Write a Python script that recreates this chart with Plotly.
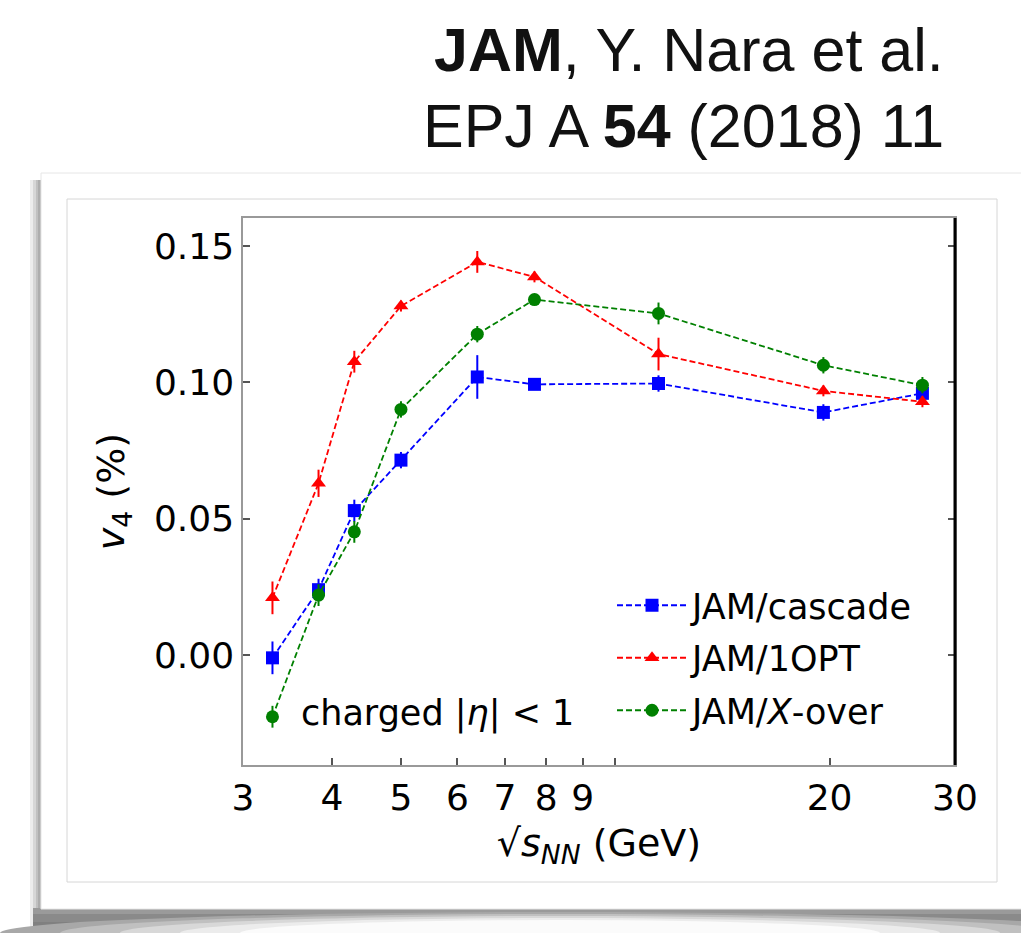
import math
import plotly.graph_objects as go

# ---- data ----
energies = [3.3, 3.83, 4.3, 5.0, 6.4, 7.7, 11.5, 19.6, 27.0]

cascade_v4 = [-0.001, 0.024, 0.053, 0.0715, 0.102, 0.0993, 0.0996, 0.089, 0.096]
cascade_err = [0.006, 0.004, 0.004, 0.003, 0.008, 0.002, 0.003, 0.003, 0.002]

opt_v4 = [0.021, 0.063, 0.1076, 0.128, 0.1442, 0.1387, 0.1104, 0.0969, 0.0929]
opt_err = [0.006, 0.005, 0.004, 0.002, 0.004, 0.002, 0.006, 0.002, 0.002]

xover_v4 = [-0.0226, 0.022, 0.0452, 0.0901, 0.1177, 0.1304, 0.1253, 0.1063, 0.099]
xover_err = [0.004, 0.004, 0.004, 0.003, 0.003, 0.002, 0.004, 0.003, 0.003]

series_names = ["JAM/cascade", "JAM/1OPT", "JAM/<i>X</i>-over"]

x_tickvals = [3, 4, 5, 6, 7, 8, 9, 10, 20, 30]
x_ticktext = ["3", "4", "5", "6", "7", "8", "9", "", "20", "30"]
y_tickvals = [0.0, 0.05, 0.10, 0.15]
y_ticktext = ["0.00", "0.05", "0.10", "0.15"]

# ---- layout geometry (pixels) ----
W, H = 1021, 933
L, R, T, B = 243, 955, 218, 765


def px(x):
    return (x - L) / (R - L)


def py(y):
    return (B - y) / (B - T)


FONT = "DejaVu Sans"

fig = go.Figure()

specs = [
    (cascade_v4, cascade_err, "blue", "square", series_names[0]),
    (opt_v4, opt_err, "red", "triangle-up", series_names[1]),
    (xover_v4, xover_err, "green", "circle", series_names[2]),
]
for i, (vals, errs, col, sym, name) in enumerate(specs):
    fig.add_trace(go.Scatter(
        x=energies, y=vals, name=name, mode="lines+markers",
        legendgroup="g%d" % i,
        line=dict(color=col, width=1.8, dash="6px,3px"),
        marker=dict(color=col, symbol=sym, size=13),
        error_y=dict(type="data", array=errs, visible=True, color=col,
                     thickness=2, width=0),
    ))

shapes = []
# left shadow of the card
for x0, x1, c in [(30, 33, "#ececec"), (33, 36, "#d6d6d6"), (36, 38, "#c0c0c0"), (38, 41, "#adadad")]:
    shapes.append(dict(type="rect", xref="paper", yref="paper", layer="below",
                       x0=px(x0), x1=px(x1), y0=py(933), y1=py(180),
                       fillcolor=c, line=dict(width=0)))
# bottom shadow band
for y0, y1, c in [(908, 914, "#9a9a9a"), (914, 922, "#8a8a8a"), (922, 933, "#808080")]:
    shapes.append(dict(type="rect", xref="paper", yref="paper", layer="below",
                       x0=px(33), x1=px(1021), y0=py(y1), y1=py(y0),
                       fillcolor=c, line=dict(width=0)))
# lighter, curved middle of the bottom shadow
for rx, top, c in [(560, 912, "#a8a8a8"), (500, 914, "#c0c0c0"), (440, 916, "#d8d8d8"),
                   (380, 918, "#ececec"), (320, 920, "#fbfbfb")]:
    shapes.append(dict(type="circle", xref="paper", yref="paper", layer="below",
                       x0=px(560 - rx), x1=px(560 + rx), y0=py(933 + (933 - top)), y1=py(top),
                       fillcolor=c, line=dict(width=0)))
# card
shapes.append(dict(type="rect", xref="paper", yref="paper", layer="below",
                   x0=px(41), x1=px(1030), y0=py(909), y1=py(173),
                   fillcolor="white", line=dict(color="#e6e6e6", width=1)))
# inner frame
shapes.append(dict(type="rect", xref="paper", yref="paper", layer="below",
                   x0=px(67), x1=px(997), y0=py(882), y1=py(199),
                   fillcolor="white", line=dict(color="#d6d6d6", width=1)))
# thick black right spine
shapes.append(dict(type="line", xref="paper", yref="paper", layer="above",
                   x0=1, x1=1, y0=0, y1=1, line=dict(color="black", width=3)))

annotations = [
    dict(text="<b>JAM</b>, Y. Nara et al.", xref="paper", yref="paper",
         x=px(946), y=py(50), xanchor="right", yanchor="middle", showarrow=False,
         font=dict(family="Liberation Sans", size=61, color="#111")),
    dict(text="EPJ A <b>54</b> (2018) 11", xref="paper", yref="paper",
         x=px(946), y=py(126), xanchor="right", yanchor="middle", showarrow=False,
         font=dict(family="Liberation Sans", size=61, color="#111")),
    dict(text="charged |<i>η</i>| < 1", xref="x", yref="y",
         x=math.log10(3.6), y=-0.0215, xanchor="left", yanchor="middle",
         showarrow=False, font=dict(family=FONT, size=35, color="black")),
]

fig.update_layout(
    width=W, height=H,
    margin=dict(l=L, r=W - R, t=T, b=H - B, pad=0),
    paper_bgcolor="white", plot_bgcolor="white",
    font=dict(family=FONT, size=36, color="black"),
    shapes=shapes, annotations=annotations,
    showlegend=True,
    legend=dict(x=px(612), y=py(576), xanchor="left", yanchor="top",
                bgcolor="rgba(255,255,255,0)", font=dict(family=FONT, size=35),
                itemwidth=70, tracegroupgap=4),
    xaxis=dict(type="log", range=[math.log10(3), math.log10(30)],
               tickvals=x_tickvals, ticktext=x_ticktext,
               ticks="inside", ticklen=7, tickcolor="#555", tickwidth=1.5,
               showline=True, linecolor="#999", linewidth=1.5, mirror=True,
               showgrid=False, zeroline=False, tickfont=dict(size=36),
               title=dict(text="√<i>s</i><sub><i>NN</i></sub> (GeV)", standoff=12,
                          font=dict(family=FONT, size=38))),
    yaxis=dict(range=[-0.0403, 0.1603],
               tickvals=y_tickvals, ticktext=y_ticktext,
               ticks="inside", ticklen=7, tickcolor="#555", tickwidth=1.5,
               showline=True, linecolor="#999", linewidth=1.5, mirror="ticks",
               showgrid=False, zeroline=False, tickfont=dict(size=36),
               title=dict(text="<i>v</i><sub>4</sub> (%)", standoff=18,
                          font=dict(family=FONT, size=38))),
)

fig.write_html("out.html")
